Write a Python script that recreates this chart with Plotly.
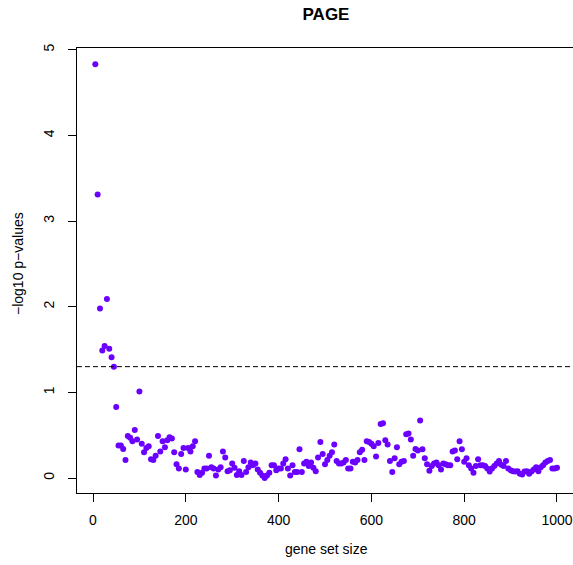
import plotly.graph_objects as go

title_text = "PAGE"
x_label = "gene set size"
y_label = "\u2212log10 p\u2212values"
threshold = 1.30

gene_set_size = list(range(5, 1001, 5))
neg_log10_p = [
    4.83, 3.31, 1.98, 1.49, 1.54, 2.09, 1.51, 1.41, 1.30, 0.83,
    0.38, 0.38, 0.34, 0.21, 0.49, 0.47, 0.43, 0.56, 0.45, 1.01,
    0.40, 0.30, 0.35, 0.37, 0.22, 0.21, 0.26, 0.49, 0.31, 0.43,
    0.36, 0.44, 0.475, 0.46, 0.30, 0.16, 0.11, 0.28, 0.35, 0.10,
    0.35, 0.31, 0.37, 0.43, 0.07, 0.035, 0.06, 0.11, 0.11, 0.26,
    0.125, 0.11, 0.03, 0.10, 0.125, 0.31, 0.24, 0.08, 0.09, 0.17,
    0.12, 0.035, 0.08, 0.035, 0.20, 0.07, 0.125, 0.18, 0.15, 0.17,
    0.10, 0.06, 0.03, 0.00, 0.03, 0.06, 0.15, 0.15, 0.09, 0.11,
    0.11, 0.17, 0.22, 0.11, 0.03, 0.15, 0.07, 0.07, 0.335, 0.07,
    0.17, 0.19, 0.14, 0.18, 0.12, 0.08, 0.24, 0.42, 0.28, 0.16,
    0.21, 0.26, 0.30, 0.39, 0.20, 0.17, 0.17, 0.18, 0.21, 0.11,
    0.11, 0.19, 0.18, 0.21, 0.30, 0.33, 0.21, 0.43, 0.42, 0.40,
    0.37, 0.25, 0.41, 0.63, 0.64, 0.44, 0.39, 0.20, 0.07, 0.23,
    0.36, 0.16, 0.19, 0.20, 0.51, 0.52, 0.45, 0.26, 0.34, 0.32,
    0.67, 0.335, 0.23, 0.16, 0.085, 0.14, 0.17, 0.18, 0.15, 0.10,
    0.17, 0.16, 0.15, 0.15, 0.31, 0.32, 0.22, 0.43, 0.335, 0.19,
    0.23, 0.15, 0.11, 0.06, 0.14, 0.22, 0.15, 0.15, 0.14, 0.11,
    0.075, 0.11, 0.14, 0.17, 0.20, 0.155, 0.14, 0.20, 0.11, 0.09,
    0.08, 0.075, 0.08, 0.05, 0.04, 0.075, 0.08, 0.05, 0.075, 0.10,
    0.125, 0.08, 0.125, 0.15, 0.18, 0.20, 0.21, 0.11, 0.11, 0.12,
]

x_ticks = [0, 200, 400, 600, 800, 1000]
y_ticks = [0, 1, 2, 3, 4, 5]

FONT = "Liberation Sans, Arial, Helvetica, sans-serif"

fig = go.Figure()
fig.add_trace(go.Scatter(
    x=gene_set_size, y=neg_log10_p, mode="markers",
    marker=dict(color="#6B00FF", size=6, line=dict(width=0)),
    showlegend=False, hoverinfo="x+y",
))

fig.add_shape(type="line", xref="paper", yref="y", x0=0, x1=1,
              y0=threshold, y1=threshold,
              line=dict(color="black", width=1, dash="5px,3px"))

fig.update_layout(
    width=573, height=565,
    margin=dict(l=77, r=0, t=48, b=72),
    paper_bgcolor="white", plot_bgcolor="white",
    font=dict(family=FONT, size=14, color="black"),
    title=dict(text="<b>" + title_text + "</b>", x=326 / 573, xanchor="center",
               xref="container", y=1 - 14.5 / 565, yref="container", yanchor="middle",
               font=dict(size=17, family=FONT, color="black")),
    annotations=[
        dict(text=x_label, xref="paper", yref="paper", x=(326 - 77) / 496,
             y=(493 - 549) / 445, xanchor="center", yanchor="middle",
             showarrow=False, font=dict(size=14, family=FONT)),
        dict(text=y_label, xref="paper", yref="paper", x=(18 - 77) / 496,
             y=(493 - 264) / 445, xanchor="center", yanchor="middle", textangle=-90,
             showarrow=False, font=dict(size=14, family=FONT)),
    ],
)

fig.update_xaxes(range=[-34.5, 1034.5], tickvals=x_ticks, ticks="outside", ticklen=8,
                 tickcolor="black", showline=True, linecolor="black", linewidth=1,
                 mirror=True, showgrid=False, zeroline=False, ticklabelstandoff=6,
                 tickfont=dict(size=14, family=FONT))
fig.update_yaxes(range=[-0.175, 5.02], tickvals=y_ticks, ticks="outside", ticklen=8,
                 tickcolor="black", showline=True, linecolor="black", linewidth=1,
                 mirror=False, showgrid=False, zeroline=False, tickangle=-90,
                 ticklabelstandoff=8, tickfont=dict(size=14, family=FONT))

fig.write_html("out.html")
